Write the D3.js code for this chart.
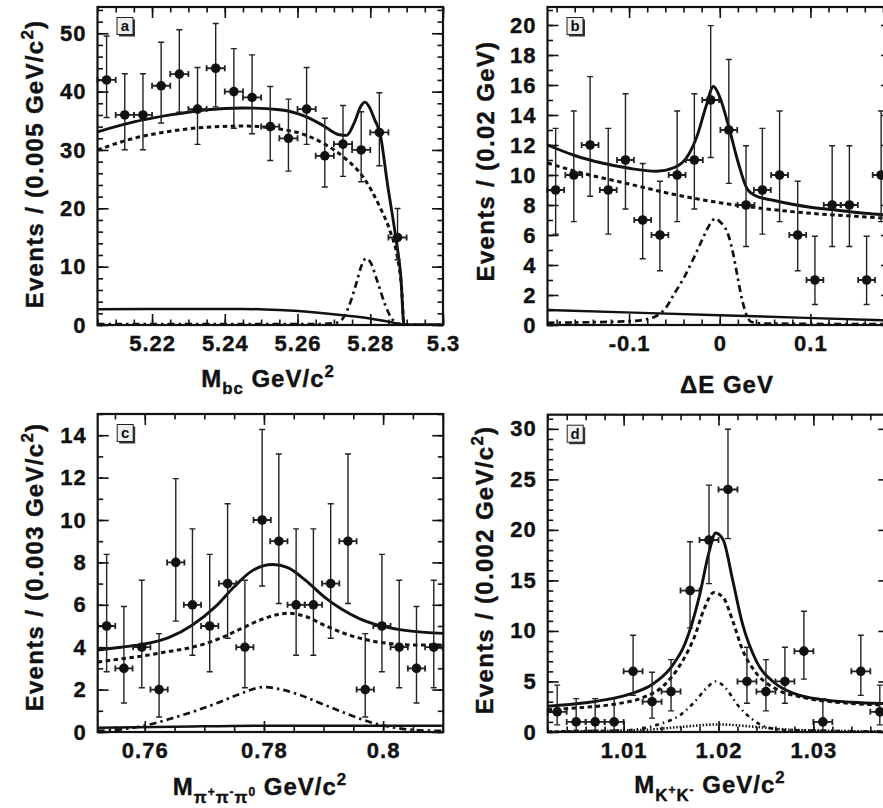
<!DOCTYPE html>
<html>
<head>
<meta charset="utf-8">
<script src="https://cdn.jsdelivr.net/npm/d3@7"></script>
<style>
  body { margin: 0; background: #fff; }
  svg text { font-family: "Liberation Sans", Arial, sans-serif; font-weight: bold; fill: #111; }
</style>
</head>
<body>
<div class="canvas"></div>
<script>
// ---- panel a : Mbc ----
const aX = [5.2075, 5.2125, 5.2175, 5.2225, 5.2275, 5.2325, 5.2375, 5.2425, 5.2475, 5.2525, 5.2575, 5.2625, 5.2675, 5.2725, 5.2775, 5.2825, 5.2875];
const aCounts = [42, 36, 36, 41, 43, 37, 44, 40, 39, 34, 32, 37, 29, 31, 30, 33, 15];
const aLo = [35.55, 30.03, 30.03, 34.63, 36.47, 30.95, 37.39, 33.71, 32.78, 28.20, 26.38, 30.95, 23.65, 25.47, 24.56, 27.29, 11.17];
const aHi = [49.53, 43.05, 43.05, 48.45, 50.60, 44.13, 51.68, 47.37, 46.30, 40.88, 38.71, 44.13, 35.44, 37.62, 36.54, 39.80, 19.96];
const aTotal = [[5.205, 33.1], [5.215, 34.8], [5.225, 36.0], [5.235, 36.9], [5.245, 37.2], [5.255, 36.9], [5.262, 35.8], [5.267, 34.2], [5.2715, 32.6], [5.2735, 32.5], [5.2755, 34.5], [5.2775, 37.6], [5.2785, 38.2], [5.2797, 37.4], [5.2812, 35.2], [5.2827, 32.8], [5.2847, 24.3], [5.287, 15.0], [5.2884, 8.3], [5.2893, 0], [5.3, 0]];
const aCont = [[5.205, 30.0], [5.215, 32.0], [5.225, 33.2], [5.235, 33.9], [5.245, 34.1], [5.255, 33.6], [5.262, 32.6], [5.268, 30.8], [5.273, 28.6], [5.278, 25.4], [5.2825, 20.4], [5.2855, 16.0], [5.2875, 11.5], [5.2886, 6.5], [5.2893, 0], [5.3, 0]];
const aBB = [[5.205, 2.7], [5.225, 2.75], [5.245, 2.75], [5.255, 2.55], [5.265, 2.15], [5.275, 1.5], [5.281, 1.0], [5.286, 0.45], [5.2893, 0], [5.3, 0]];
const aSig = [[5.205, 0.15], [5.265, 0.15], [5.27, 0.3], [5.272, 0.8], [5.274, 3.0], [5.276, 6.8], [5.2778, 10.5], [5.2788, 11.4], [5.28, 10.8], [5.282, 7.4], [5.284, 3.6], [5.286, 1.0], [5.288, 0.2], [5.2893, 0], [5.3, 0]];
const aXTicks = [5.22, 5.24, 5.26, 5.28, 5.3];
const aYTicks = [0, 10, 20, 30, 40, 50];

// ---- panel b : delta E ----
const bX = [-0.181, -0.161, -0.143, -0.123, -0.104, -0.085, -0.066, -0.047, -0.028, -0.010, 0.010, 0.029, 0.047, 0.066, 0.086, 0.105, 0.124, 0.143, 0.162, 0.178];
const bCounts = [9, 10, 12, 9, 11, 7, 6, 10, 11, 15, 13, 8, 9, 10, 6, 3, 8, 8, 3, 10];
const bLo = [6.06, 6.89, 8.58, 6.06, 7.73, 4.42, 3.62, 6.89, 7.73, 11.17, 9.44, 5.23, 6.06, 6.89, 3.62, 1.37, 5.23, 5.23, 1.37, 6.89];
const bHi = [13.11, 14.27, 16.56, 13.11, 15.42, 10.77, 9.58, 14.27, 15.42, 19.96, 17.70, 11.95, 13.11, 14.27, 9.58, 5.92, 11.95, 11.95, 5.92, 14.27];
const bTotal = [[-0.19, 12.0], [-0.16, 11.3], [-0.13, 10.8], [-0.10, 10.45], [-0.07, 10.25], [-0.05, 10.5], [-0.035, 11.3], [-0.025, 12.6], [-0.015, 14.6], [-0.007, 15.9], [0.0, 15.2], [0.01, 13.2], [0.02, 10.9], [0.03, 9.1], [0.04, 8.6], [0.06, 8.3], [0.08, 8.05], [0.10, 7.85], [0.13, 7.65], [0.16, 7.45], [0.19, 7.3]];
const bCont = [[-0.19, 10.8], [-0.15, 10.1], [-0.10, 9.4], [-0.05, 8.7], [0, 8.15], [0.05, 7.75], [0.10, 7.45], [0.15, 7.25], [0.19, 7.1]];
const bBB = [[-0.19, 1.0], [0, 0.65], [0.19, 0.3]];
const bSig = [[-0.19, 0.15], [-0.1, 0.25], [-0.08, 0.4], [-0.07, 0.6], [-0.06, 1.1], [-0.05, 2.1], [-0.04, 3.1], [-0.03, 4.3], [-0.02, 5.6], [-0.01, 6.8], [-0.005, 7.1], [0, 6.9], [0.01, 5.9], [0.015, 4.7], [0.02, 3.1], [0.025, 1.6], [0.03, 0.6], [0.035, 0.2], [0.05, 0.1], [0.19, 0.05]];
const bXTicks = [-0.1, 0, 0.1];
const bYTicks = [0, 2, 4, 6, 8, 10, 12, 14, 16, 18, 20];

// ---- panel c : M(pi+ pi- pi0) ----
const cX = [0.7536, 0.7565, 0.7595, 0.7624, 0.7652, 0.7680, 0.7709, 0.7739, 0.7768, 0.7797, 0.7825, 0.7854, 0.7883, 0.7912, 0.7941, 0.7970, 0.7998, 0.8027, 0.8056, 0.8085];
const cCounts = [5, 3, 4, 2, 8, 6, 5, 7, 4, 10, 9, 6, 6, 7, 9, 2, 5, 4, 3, 4];
const cLo = [2.84, 1.37, 2.09, 0.71, 5.23, 3.62, 2.84, 4.42, 2.09, 6.89, 6.06, 3.62, 3.62, 4.42, 6.06, 0.71, 2.84, 2.09, 1.37, 2.09];
const cHi = [8.38, 5.92, 7.16, 4.64, 11.95, 9.58, 8.38, 10.77, 7.16, 14.27, 13.11, 9.58, 9.58, 10.77, 13.11, 4.64, 8.38, 7.16, 5.92, 7.16];
const cTotal = [[0.7521, 3.87], [0.756, 4.0], [0.760, 4.15], [0.764, 4.45], [0.768, 5.05], [0.772, 5.95], [0.775, 6.85], [0.778, 7.6], [0.7815, 7.9], [0.784, 7.75], [0.787, 7.15], [0.790, 6.4], [0.793, 5.8], [0.796, 5.35], [0.800, 4.98], [0.804, 4.78], [0.8101, 4.65]];
const cCont = [[0.7521, 3.3], [0.756, 3.45], [0.760, 3.6], [0.764, 3.8], [0.768, 4.0], [0.772, 4.35], [0.776, 4.85], [0.780, 5.35], [0.784, 5.6], [0.787, 5.45], [0.790, 5.05], [0.794, 4.6], [0.798, 4.3], [0.802, 4.15], [0.806, 4.1], [0.8101, 4.1]];
const cSig = [[0.7521, 0.05], [0.756, 0.12], [0.760, 0.3], [0.764, 0.6], [0.768, 0.95], [0.772, 1.35], [0.776, 1.8], [0.780, 2.12], [0.783, 2.0], [0.786, 1.75], [0.790, 1.3], [0.794, 0.85], [0.798, 0.45], [0.802, 0.2], [0.806, 0.08], [0.8101, 0.05]];
const cBB = [[0.7521, 0.2], [0.765, 0.25], [0.78, 0.3], [0.8101, 0.3]];
const cXTicks = [0.76, 0.78, 0.8];
const cYTicks = [0, 2, 4, 6, 8, 10, 12, 14];

// ---- panel d : M(K+ K-) ----
const dX = [1.003, 1.005, 1.007, 1.009, 1.011, 1.013, 1.015, 1.017, 1.019, 1.021, 1.023, 1.025, 1.027, 1.029, 1.031, 1.035, 1.037];
const dCounts = [2, 1, 1, 1, 6, 3, 4, 14, 19, 24, 5, 4, 5, 8, 1, 6, 2];
const dLo = [0.71, 0.17, 0.17, 0.17, 3.62, 1.37, 2.09, 10.30, 14.68, 19.14, 2.84, 2.09, 2.84, 5.23, 0.17, 3.62, 0.71];
const dHi = [4.64, 3.30, 3.30, 3.30, 9.58, 5.92, 7.16, 18.83, 24.43, 29.96, 8.38, 7.16, 8.38, 11.95, 3.30, 9.58, 4.64];
const dTotal = [[1.002, 2.55], [1.006, 2.9], [1.009, 3.35], [1.011, 3.85], [1.013, 4.7], [1.015, 6.4], [1.0165, 8.8], [1.018, 13.5], [1.019, 17.8], [1.0197, 19.7], [1.0205, 19.0], [1.0215, 15.0], [1.0225, 10.8], [1.024, 7.0], [1.026, 4.8], [1.028, 3.8], [1.031, 3.2], [1.034, 2.95], [1.038, 2.8]];
const dCont = [[1.002, 2.2], [1.006, 2.45], [1.009, 2.75], [1.012, 3.4], [1.014, 4.4], [1.016, 6.7], [1.0175, 9.5], [1.0185, 12.2], [1.0195, 13.8], [1.0205, 13.3], [1.0215, 11.0], [1.0225, 8.2], [1.024, 5.8], [1.026, 4.3], [1.029, 3.4], [1.033, 2.9], [1.038, 2.65]];
const dSig = [[1.002, 0.05], [1.010, 0.15], [1.012, 0.35], [1.014, 0.85], [1.016, 1.7], [1.0175, 3.0], [1.0188, 4.4], [1.0197, 5.0], [1.0207, 4.4], [1.022, 2.7], [1.0235, 1.3], [1.025, 0.5], [1.027, 0.2], [1.038, 0.05]];
const dDot = [[1.002, 0.05], [1.012, 0.2], [1.016, 0.5], [1.02, 0.75], [1.024, 0.5], [1.028, 0.2], [1.038, 0.05]];
const dXTicks = [1.01, 1.02, 1.03];
const dYTicks = [0, 5, 10, 15, 20, 25, 30];

// line styles
const SOLID = { w: 2.9, dash: null };
const THIN = { w: 2.5, dash: null };
const DASH = { w: 3, dash: '4.5,3.5' };
const DASHDOT = { w: 2.7, dash: '7,4,2.5,4' };
const DOT = { w: 2.6, dash: '1.5,1.8' };

const panels = [
  { id: 'a', xs: aX, ys: aCounts, lo: aLo, hi: aHi, hw: 0.0025,
    xDomain: [5.205, 5.3], yDomain: [0, 54.5], box: { l: 97.5, r: 443, t: 7, b: 325 },
    xTicks: aXTicks, yTicks: aYTicks, xMinor: 0.005, yMinor: 2,
    curves: [[aBB, THIN], [aSig, DASHDOT], [aCont, DASH], [aTotal, SOLID]],
    xTitle: { x: 268, y: 387, parts: [['M', 0, 1], ['bc', 7, 0.7], [' GeV/c', 0, 1], ['2', -10, 0.7]] },
    yTitle: { x: 43, y: 164, parts: [['Events / (0.005 GeV/c', 0, 1], ['2', -10, 0.7], [')', 0, 1]] } },
  { id: 'b', xs: bX, ys: bCounts, lo: bLo, hi: bHi, hw: 0.0093,
    xDomain: [-0.19, 0.19], yDomain: [0, 21.2], box: { l: 547.5, r: 892, t: 7, b: 325 },
    xTicks: bXTicks, yTicks: bYTicks, xMinor: 0.02, yMinor: 1,
    curves: [[bBB, THIN], [bSig, DASHDOT], [bCont, DASH], [bTotal, SOLID]],
    xTitle: { x: 727, y: 393, parts: [['\u0394E GeV', 0, 1]] },
    yTitle: { x: 494, y: 161, parts: [['Events / (0.02 GeV)', 0, 1]] } },
  { id: 'c', xs: cX, ys: cCounts, lo: cLo, hi: cHi, hw: 0.00145,
    xDomain: [0.7521, 0.8101], yDomain: [0, 15], box: { l: 97.7, r: 443.3, t: 414, b: 732 },
    xTicks: cXTicks, yTicks: cYTicks, xMinor: 0.005, yMinor: 1,
    curves: [[cBB, THIN], [cSig, DASHDOT], [cCont, DASH], [cTotal, SOLID]],
    xTitle: { x: 260, y: 795, parts: [['M', 0, 1], ['\u03c0', 8, 0.7], ['+', 1, 0.5], ['\u03c0', 8, 0.7], ['-', 1, 0.5], ['\u03c0', 8, 0.7], ['0', 1, 0.5], [' GeV/c', 0, 1], ['2', -10, 0.7]] },
    yTitle: { x: 43, y: 567, parts: [['Events / (0.003 GeV/c', 0, 1], ['2', -10, 0.7], [')', 0, 1]] } },
  { id: 'd', xs: dX, ys: dCounts, lo: dLo, hi: dHi, hw: 0.001,
    xDomain: [1.002, 1.038], yDomain: [0, 31.4], box: { l: 547.7, r: 889.3, t: 414.7, b: 732 },
    xTicks: dXTicks, yTicks: dYTicks, xMinor: 0.002, yMinor: 1,
    curves: [[dDot, DOT], [dSig, { w: 2.6, dash: '4,4,1.5,4' }], [dCont, DASH], [dTotal, SOLID]],
    xTitle: { x: 710, y: 793, parts: [['M', 0, 1], ['K', 8, 0.7], ['+', 1, 0.5], ['K', 8, 0.7], ['-', 1, 0.5], [' GeV/c', 0, 1], ['2', -10, 0.7]] },
    yTitle: { x: 493, y: 570, parts: [['Events / (0.002 GeV/c', 0, 1], ['2', -10, 0.7], [')', 0, 1]] } }
];

const svg = d3.select('.canvas')
  .append('svg')
  .attr('width', 883)
  .attr('height', 808);

// steps between domain ends, no float drift
const stepTicks = (dom, step) => {
  const n0 = Math.ceil(dom[0] / step - 1e-6), n1 = Math.floor(dom[1] / step + 1e-6);
  return d3.range(n0, n1 + 1).map(i => +(i * step).toFixed(6));
};

// text with sub/superscripts: parts = [text, offset px, size factor]
const richText = (sel, parts, size) => {
  let cur = 0;
  parts.forEach(([t, off, f]) => {
    sel.append('tspan')
      .attr('dy', off - cur)
      .attr('font-size', size * f)
      .text(t);
    cur = off;
  });
};

panels.forEach(p => {
  const x = d3.scaleLinear().domain(p.xDomain).range([p.box.l, p.box.r]);
  const y = d3.scaleLinear().domain(p.yDomain).range([p.box.b, p.box.t]);
  const g = svg.append('g').attr('class', 'panel-' + p.id);

  svg.append('clipPath').attr('id', 'clip-' + p.id)
    .append('rect')
    .attr('x', p.box.l).attr('y', p.box.t)
    .attr('width', p.box.r - p.box.l).attr('height', p.box.b - p.box.t);

  // fit curves
  const line = d3.line()
    .x(d => x(d[0]))
    .y(d => y(d[1]))
    .curve(d3.curveMonotoneX);

  g.append('g').attr('clip-path', `url(#clip-${p.id})`)
    .selectAll('path')
    .data(p.curves)
    .join('path')
    .attr('d', c => line(c[0]))
    .attr('fill', 'none')
    .attr('stroke', '#111')
    .attr('stroke-width', c => c[1].w)
    .attr('stroke-dasharray', c => c[1].dash);

  // data points with errors
  const pts = p.xs.map((xv, i) => ({ x: xv, n: p.ys[i], lo: p.lo[i], hi: p.hi[i] }));
  const eb = g.append('g').attr('stroke', '#222');

  eb.selectAll('.ey').data(pts).join('line')
    .attr('x1', d => x(d.x)).attr('x2', d => x(d.x))
    .attr('y1', d => y(d.lo)).attr('y2', d => y(d.hi))
    .attr('stroke-width', 1.4);
  eb.selectAll('.capt').data(pts).join('path')
    .attr('d', d => `M${x(d.x) - 3},${y(d.hi)}h6M${x(d.x) - 3},${y(d.lo)}h6`)
    .attr('stroke-width', 1.4);
  eb.selectAll('.ex').data(pts).join('path')
    .attr('d', d => `M${x(d.x - p.hw)},${y(d.n)}H${x(d.x + p.hw)}` +
      `M${x(d.x - p.hw)},${y(d.n) - 3}v6M${x(d.x + p.hw)},${y(d.n) - 3}v6`)
    .attr('stroke-width', 1.8);

  g.append('g').selectAll('circle').data(pts).join('circle')
    .attr('cx', d => x(d.x))
    .attr('cy', d => y(d.n))
    .attr('r', 4.8)
    .attr('fill', '#111');

  // ticks on all four sides, pointing in
  const fmt = d => String(d);
  const xMinor = stepTicks(p.xDomain, p.xMinor);
  const yMinor = stepTicks(p.yDomain, p.yMinor);
  const axes = [
    [d3.axisBottom(x).tickValues(p.xTicks).tickSize(-11).tickPadding(10).tickFormat(fmt), `translate(0,${p.box.b})`],
    [d3.axisBottom(x).tickValues(xMinor).tickSize(-5.5).tickFormat(''), `translate(0,${p.box.b})`],
    [d3.axisTop(x).tickValues(p.xTicks).tickSize(-11).tickFormat(''), `translate(0,${p.box.t})`],
    [d3.axisTop(x).tickValues(xMinor).tickSize(-5.5).tickFormat(''), `translate(0,${p.box.t})`],
    [d3.axisLeft(y).tickValues(p.yTicks).tickSize(-11).tickPadding(11).tickFormat(fmt), `translate(${p.box.l},0)`],
    [d3.axisLeft(y).tickValues(yMinor).tickSize(-5.5).tickFormat(''), `translate(${p.box.l},0)`],
    [d3.axisRight(y).tickValues(p.yTicks).tickSize(-11).tickFormat(''), `translate(${p.box.r},0)`],
    [d3.axisRight(y).tickValues(yMinor).tickSize(-5.5).tickFormat(''), `translate(${p.box.r},0)`]
  ];
  axes.forEach(([ax, tr]) => {
    const a = g.append('g').attr('transform', tr).call(ax);
    a.select('.domain').remove();
    a.selectAll('line').attr('stroke', '#111').attr('stroke-width', 1.6);
    a.selectAll('text')
      .attr('font-family', '"Liberation Sans", Arial, sans-serif')
      .attr('font-size', 22)
      .attr('letter-spacing', 1)
      .attr('fill', '#111')
      .attr('stroke', '#111')
      .attr('stroke-width', 0.4);
  });

  // frame
  g.append('rect')
    .attr('x', p.box.l).attr('y', p.box.t)
    .attr('width', p.box.r - p.box.l).attr('height', p.box.b - p.box.t)
    .attr('fill', 'none').attr('stroke', '#111').attr('stroke-width', 2.2);

  // panel letter box
  const bx = p.box.l + 19.5, by = p.box.t + 10.5;
  g.append('rect').attr('x', bx + 2).attr('y', by + 2).attr('width', 16).attr('height', 17).attr('fill', '#333');
  g.append('rect').attr('x', bx).attr('y', by).attr('width', 16).attr('height', 17)
    .attr('fill', '#efefef').attr('stroke', '#222').attr('stroke-width', 1);
  g.append('text').attr('x', bx + 8).attr('y', by + 13.5)
    .attr('text-anchor', 'middle').attr('font-size', 15).text(p.id);

  // axis titles
  const xt = g.append('text').attr('x', p.xTitle.x).attr('y', p.xTitle.y)
    .attr('text-anchor', 'middle').attr('letter-spacing', 1)
    .attr('stroke', '#111').attr('stroke-width', 0.4);
  richText(xt, p.xTitle.parts, 24);

  const yt = g.append('text')
    .attr('transform', `translate(${p.yTitle.x},${p.yTitle.y}) rotate(-90)`)
    .attr('text-anchor', 'middle').attr('letter-spacing', 1.3)
    .attr('stroke', '#111').attr('stroke-width', 0.4);
  richText(yt, p.yTitle.parts, 24);
});
</script>
</body>
</html>
